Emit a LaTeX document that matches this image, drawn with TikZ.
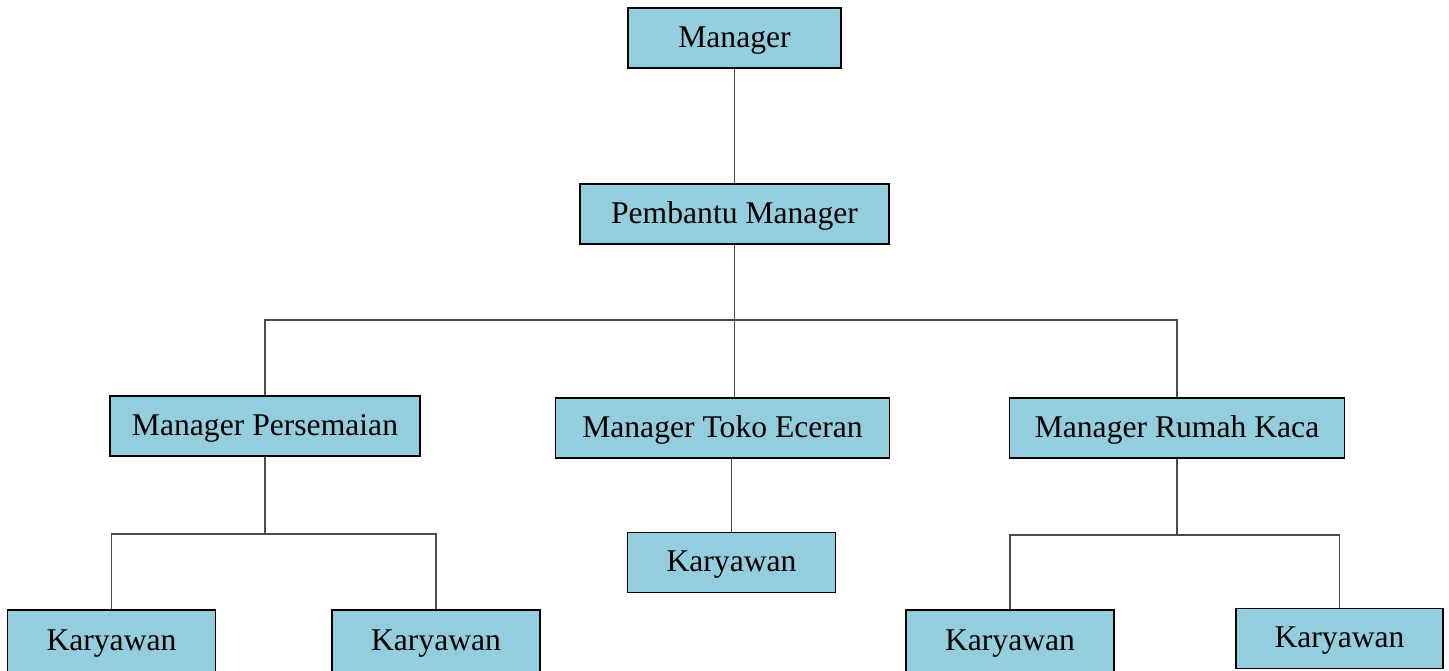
\documentclass[tikz,border=0pt]{standalone}
\usepackage{fontspec}
\setmainfont{Liberation Serif}
\definecolor{boxblue}{RGB}{148,205,221}
\definecolor{linegray}{RGB}{75,75,75}

\begin{document}
\begin{tikzpicture}[x=0.02cm, y=-0.02cm,
	jabatan/.style={draw=black, line width=1pt, fill=boxblue, minimum height=1.2cm, inner sep=0pt, text height=14pt, text depth=3.5pt, font=\fontsize{18}{21}\selectfont},
	garis/.style={draw=linegray, line width=0.8pt}]
	\useasboundingbox (0,0) rectangle (1449,670);

	% garis penghubung
	\coordinate (bus) at (0,320);
	\coordinate (busps) at (0,534);
	\coordinate (busrk) at (0,535);

	\node[jabatan, minimum width=4.26cm] (mgr) at (734.5,38) {Manager};
	\node[jabatan, minimum width=6.18cm] (pmb) at (734.5,214) {Pembantu Manager};

	\node[jabatan, minimum width=6.2cm] (ps) at (265,426) {Manager Persemaian};
	\node[jabatan, minimum width=6.68cm] (toko) at (722.5,428) {Manager Toko Eceran};
	\node[jabatan, minimum width=6.7cm] (rk) at (1177,428) {Manager Rumah Kaca};

	\node[jabatan, minimum width=4.16cm] (krtoko) at (731.5,562.5) {Karyawan};
	\node[jabatan, minimum width=4.16cm, minimum height=1.24cm] (krps1) at (111.5,641) {Karyawan};
	\node[jabatan, minimum width=4.16cm, minimum height=1.24cm] (krps2) at (436,641) {Karyawan};
	\node[jabatan, minimum width=4.16cm, minimum height=1.24cm] (krrk1) at (1010,641) {Karyawan};
	\node[jabatan, minimum width=4.14cm] (krrk2) at (1339.5,638.5) {Karyawan};

	\draw[garis] (mgr) -- (pmb);
	\draw[garis] (pmb.south) -- (pmb.south |- toko.north);
	\draw[garis] (ps.north) -- (ps.north |- bus) -- (rk.north |- bus) -- (rk.north);

	\draw[garis] (ps.south) -- (ps.south |- busps);
	\draw[garis] (krps1.north) -- (krps1.north |- busps) -- (krps2.north |- busps) -- (krps2.north);

	\draw[garis] (toko.south -| krtoko.north) -- (krtoko.north);

	\draw[garis] (rk.south) -- (rk.south |- busrk);
	\draw[garis] (krrk1.north) -- (krrk1.north |- busrk) -- (krrk2.north |- busrk) -- (krrk2.north);
\end{tikzpicture}
\end{document}
